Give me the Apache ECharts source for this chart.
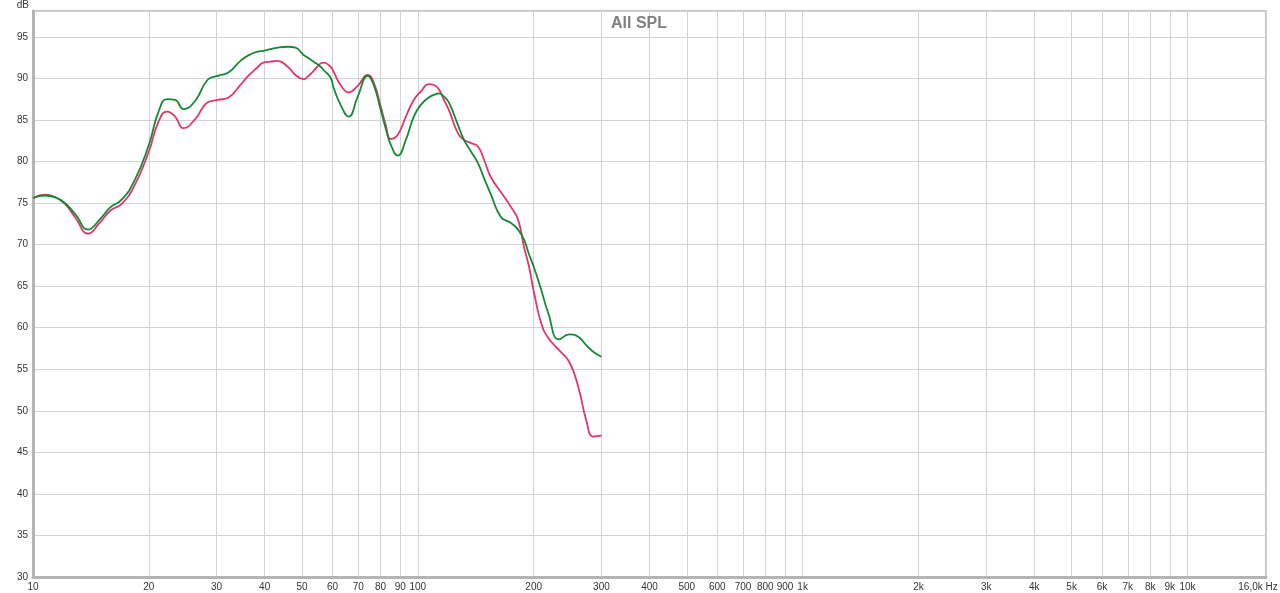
<!DOCTYPE html>
<html>
<head>
<meta charset="utf-8">
<script src="https://cdn.jsdelivr.net/npm/echarts@6/dist/echarts.min.js"></script>
<style>
html,body{margin:0;padding:0;background:#fff;}
#chart{width:1280px;height:593px;}
</style>
</head>
<body>
<div id="chart"></div>
<script>
// Frequencies (Hz) at which the curves were read
const freqs = [10, 10.75, 11.4, 12.1, 12.9, 13.9, 14.9, 15.9, 17, 18.4, 20, 21.2, 22.3, 23.4, 24.6, 26.4, 28.4, 30.2, 32.2, 34.6, 36.1, 38.3, 39.7, 41.4, 43.2, 45.9, 48.1, 50.5, 51.7, 53.6, 55.9, 56.9, 59.3, 60.4, 63, 66.1, 69.8, 74.1, 76.8, 80.1, 82.5, 85.1, 88.7, 93.1, 97.6, 101.8, 106.8, 110.1, 113.4, 116.9, 120.4, 127.1, 131.8, 137.4, 143.3, 148.6, 154.9, 164.5, 174.7, 182.2, 188.8, 194.6, 200.5, 209.1, 218.1, 232.9, 247.4, 261.1, 273.9, 285.6, 300];

// Red curve (dB)
const redSPL = [75.6, 76.0, 75.7, 74.9, 73.2, 71.3, 72.6, 74.1, 74.9, 77.2, 81.2, 84.8, 86.0, 85.4, 84.0, 85.1, 87.1, 87.4, 87.7, 89.2, 90.2, 91.3, 91.9, 92.0, 92.1, 91.4, 90.4, 89.9, 90.2, 90.9, 91.8, 91.9, 91.4, 90.8, 89.2, 88.3, 89.1, 90.4, 89.5, 86.6, 84.4, 82.7, 83.2, 85.4, 87.4, 88.4, 89.3, 89.2, 88.7, 87.4, 86.2, 83.4, 82.6, 82.2, 81.8, 80.2, 78.1, 76.3, 74.5, 73.0, 69.7, 67.3, 64.2, 60.6, 58.8, 57.3, 55.9, 52.9, 48.9, 46.9, 47.0];

// Green curve (dB)
const greenSPL = [75.6, 75.9, 75.7, 75.0, 73.6, 71.8, 73.0, 74.5, 75.4, 77.8, 82.0, 86.0, 87.5, 87.4, 86.3, 87.3, 89.8, 90.3, 90.7, 92.1, 92.7, 93.2, 93.3, 93.5, 93.7, 93.8, 93.7, 92.8, 92.5, 92.0, 91.4, 91.0, 90.1, 88.9, 86.8, 85.4, 87.8, 90.3, 89.2, 86.2, 84.0, 82.0, 80.7, 82.6, 85.4, 86.8, 87.7, 88.0, 88.2, 87.8, 87.1, 84.4, 82.6, 81.2, 79.8, 78.0, 76.0, 73.3, 72.6, 71.8, 70.6, 68.8, 67.2, 64.6, 61.8, 58.6, 59.2, 58.9, 57.9, 57.1, 56.5];

// X tick values and labels
const xTickValues = [10, 20, 30, 40, 50, 60, 70, 80, 90, 100, 200, 300, 400, 500, 600, 700, 800, 900, 1000, 2000, 3000, 4000, 5000, 6000, 7000, 8000, 9000, 10000, 16000];
const xTickLabels = ['10', '20', '30', '40', '50', '60', '70', '80', '90', '100', '200', '300', '400', '500', '600', '700', '800', '900', '1k', '2k', '3k', '4k', '5k', '6k', '7k', '8k', '9k', '10k', '16,0k Hz'];

const titleText = 'All SPL';
const yName = 'dB';

const toPairs = (ys) => freqs.map((f, i) => [f, ys[i]]);

const chart = echarts.init(document.getElementById('chart'), null, {renderer: 'canvas'});
chart.setOption({
  animation: false,
  backgroundColor: '#ffffff',
  title: {
    text: titleText,
    left: 606,
    top: 11,
    textStyle: {fontFamily: 'Liberation Sans, Arial, sans-serif', fontSize: 16, fontWeight: 'bold', color: '#7f7f7f'}
  },
  grid: {
    left: 33, right: 14, top: 11, bottom: 16,
    outerBoundsMode: 'none',
    containLabel: false,
    show: true, borderColor: '#c4c4c4', borderWidth: 2, backgroundColor: '#ffffff'
  },
  xAxis: {
    type: 'log',
    logBase: 10,
    min: 10,
    max: 16000,
    axisLine: {show: true, onZero: false, lineStyle: {color: '#b4b4b4', width: 3}},
    axisTick: {show: false, customValues: xTickValues},
    axisLabel: {
      customValues: xTickValues,
      margin: 5,
      fontFamily: 'Liberation Sans, Arial, sans-serif',
      fontSize: 10,
      color: '#333333',
      formatter: function (v) {
        const i = xTickValues.findIndex(t => Math.abs(t - v) < t * 1e-6);
        if (i < 0) return '';
        if (i === xTickValues.length - 1) return '{last|' + xTickLabels[i] + '}';
        return xTickLabels[i];
      },
      rich: {
        last: {fontFamily: 'Liberation Sans, Arial, sans-serif', fontSize: 10, color: '#333333', padding: [0, 16, 0, 0]}
      }
    },
    splitLine: {show: true, lineStyle: {color: '#d2d2d2', width: 1}}
  },
  yAxis: {
    type: 'value',
    min: 30,
    max: 98.1,
    interval: 5,
    name: yName,
    nameLocation: 'end',
    nameGap: 1,
    nameTextStyle: {fontFamily: 'Liberation Sans, Arial, sans-serif', fontSize: 10, color: '#333333', align: 'right', padding: [0, 4, 0, 0]},
    axisLine: {show: true, lineStyle: {color: '#b4b4b4', width: 3}},
    axisTick: {show: false},
    axisLabel: {
      margin: 5,
      fontFamily: 'Liberation Sans, Arial, sans-serif',
      fontSize: 10,
      color: '#333333',
      showMaxLabel: false
    },
    splitLine: {show: true, lineStyle: {color: '#d2d2d2', width: 1}}
  },
  series: [
    {
      name: 'Red',
      type: 'line',
      data: toPairs(redSPL),
      smooth: 0.5,
      symbol: 'none',
      lineStyle: {color: '#e23668', width: 1.8},
      z: 2
    },
    {
      name: 'Green',
      type: 'line',
      data: toPairs(greenSPL),
      smooth: 0.5,
      symbol: 'none',
      lineStyle: {color: '#138a36', width: 1.8},
      z: 3
    }
  ]
});
</script>
</body>
</html>
